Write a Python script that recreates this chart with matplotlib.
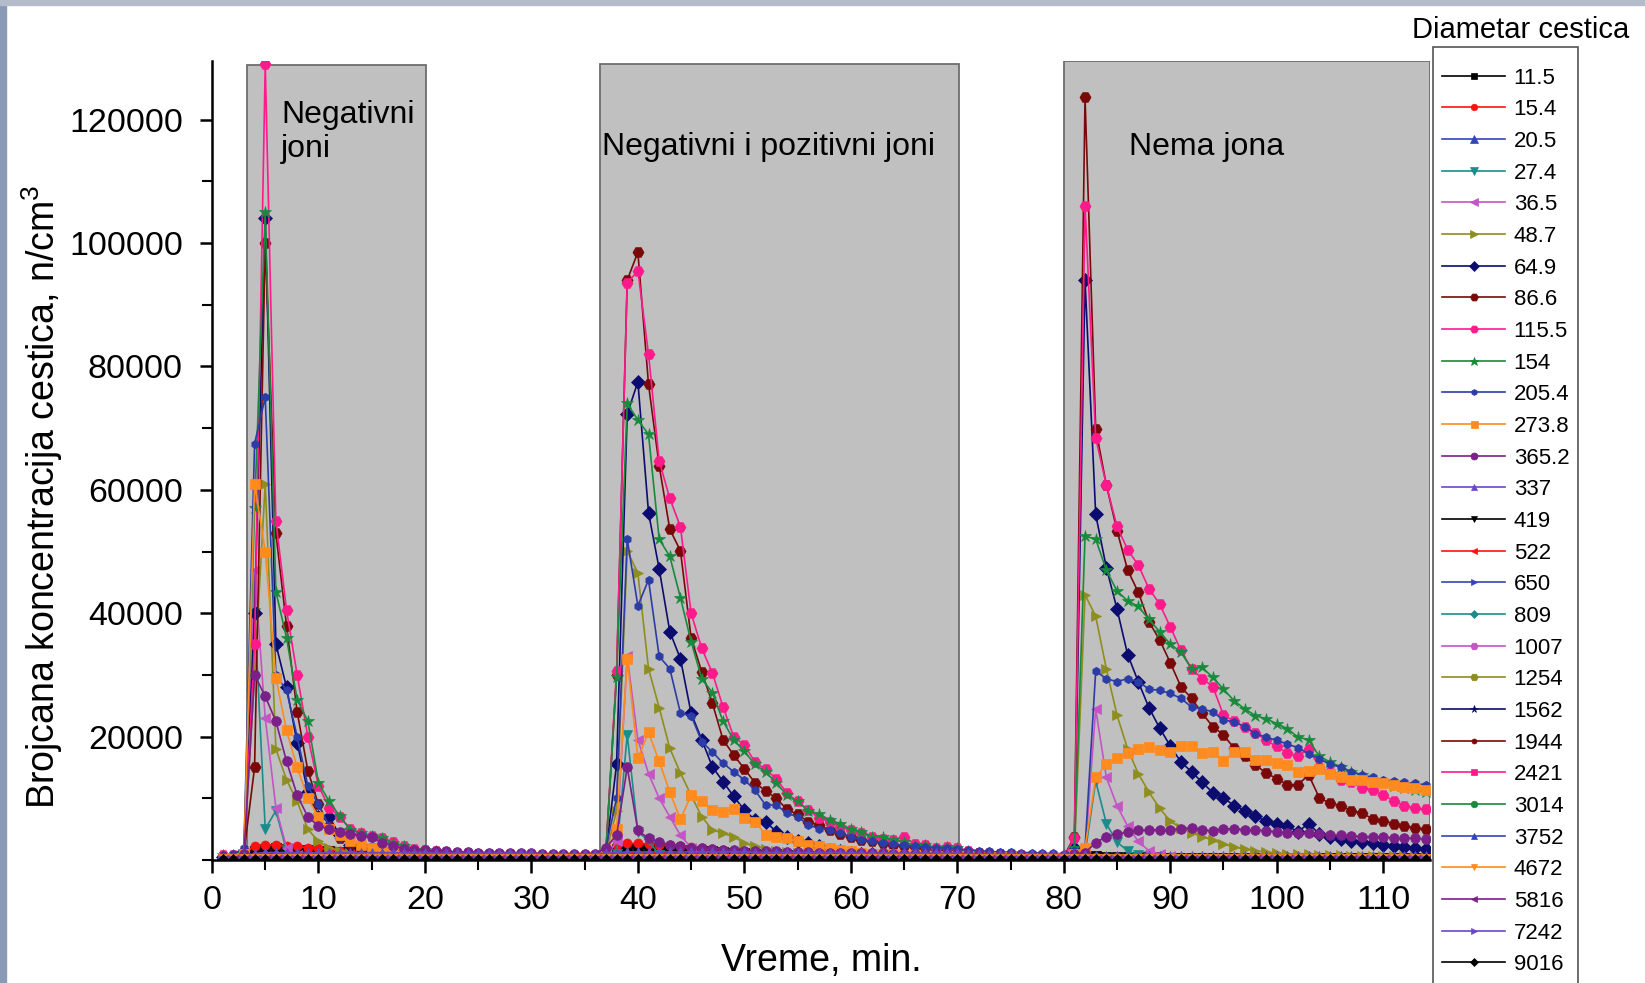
import numpy as np
import matplotlib
matplotlib.use("Agg")
import matplotlib.pyplot as plt
from matplotlib.ticker import MultipleLocator
from matplotlib.patches import Rectangle

plt.rcParams['font.family'] = ['Liberation Sans', 'DejaVu Sans']
plt.rcParams['mathtext.default'] = 'regular'

# vreme, min (jedna tacka po minuti)
minutes = np.arange(1, 115)

# koncentracije u hiljadama n/cm3, redovi po 10 minuta
d11_5 = [
    0.3, 0.3, 0.8, 1.5, 1.8, 1.9, 1.8, 1.7, 1.6, 1.5,
    1.4, 1.3, 1.2, 1.1, 1.0, 0.9, 0.8, 0.8, 0.7, 0.7,
    0.6, 0.6, 0.6, 0.5, 0.5, 0.5, 0.5, 0.5, 0.4, 0.4,
    0.4, 0.4, 0.4, 0.4, 0.4, 0.4, 1.2, 1.8, 2.0, 2.0,
    1.9, 1.9, 1.8, 1.7, 1.6, 1.5, 1.4, 1.3, 1.2, 1.1,
    1.0, 0.9, 0.9, 0.8, 0.8, 0.7, 0.7, 0.6, 0.6, 0.6,
    0.5, 0.5, 0.5, 0.5, 0.4, 0.4, 0.4, 0.4, 0.4, 0.4,
    0.3, 0.3, 0.3, 0.3, 0.3, 0.3, 0.3, 0.3, 0.3, 0.3,
    0.4, 0.6, 0.6, 0.5, 0.5, 0.5, 0.5, 0.5, 0.5, 0.4,
    0.4, 0.4, 0.4, 0.4, 0.4, 0.4, 0.4, 0.4, 0.4, 0.4,
    0.4, 0.4, 0.4, 0.3, 0.3, 0.3, 0.3, 0.3, 0.3, 0.3,
    0.3, 0.3, 0.3, 0.3,
]
d15_4 = [
    0.3, 0.3, 1.0, 2.3, 2.5, 2.4, 2.3, 2.2, 2.0, 1.9,
    1.7, 1.5, 1.4, 1.2, 1.1, 1.0, 0.9, 0.8, 0.7, 0.7,
    0.6, 0.6, 0.6, 0.5, 0.5, 0.5, 0.5, 0.4, 0.4, 0.4,
    0.4, 0.4, 0.4, 0.4, 0.4, 0.4, 1.5, 2.5, 2.7, 2.7,
    2.6, 2.5, 2.4, 2.3, 2.1, 2.0, 1.8, 1.7, 1.5, 1.4,
    1.3, 1.2, 1.1, 1.0, 0.9, 0.9, 0.8, 0.8, 0.7, 0.7,
    0.6, 0.6, 0.6, 0.5, 0.5, 0.5, 0.5, 0.4, 0.4, 0.4,
    0.3, 0.3, 0.3, 0.3, 0.3, 0.3, 0.3, 0.3, 0.3, 0.3,
    0.4, 0.5, 0.5, 0.5, 0.5, 0.5, 0.4, 0.4, 0.4, 0.4,
    0.4, 0.4, 0.4, 0.4, 0.4, 0.4, 0.4, 0.4, 0.4, 0.4,
    0.4, 0.4, 0.4, 0.3, 0.3, 0.3, 0.3, 0.3, 0.3, 0.3,
    0.3, 0.3, 0.3, 0.3,
]
d20_5 = [
    0.2, 0.2, 0.5, 1.0, 1.2, 1.1, 1.0, 1.0, 0.9, 0.9,
    0.8, 0.8, 0.8, 0.7, 0.7, 0.7, 0.7, 0.6, 0.6, 0.6,
    0.5, 0.5, 0.5, 0.5, 0.5, 0.5, 0.5, 0.5, 0.5, 0.5,
    0.5, 0.5, 0.5, 0.5, 0.5, 0.5, 0.8, 1.0, 1.2, 1.2,
    1.1, 1.1, 1.0, 1.0, 0.9, 0.9, 0.8, 0.8, 0.7, 0.7,
    0.6, 0.6, 0.6, 0.6, 0.6, 0.5, 0.5, 0.5, 0.5, 0.5,
    0.4, 0.4, 0.4, 0.4, 0.4, 0.4, 0.4, 0.4, 0.4, 0.4,
    0.3, 0.3, 0.3, 0.3, 0.3, 0.3, 0.3, 0.3, 0.3, 0.3,
    0.3, 0.5, 0.5, 0.5, 0.5, 0.5, 0.5, 0.5, 0.5, 0.5,
    0.4, 0.4, 0.4, 0.4, 0.4, 0.4, 0.4, 0.4, 0.4, 0.4,
    0.3, 0.3, 0.3, 0.3, 0.3, 0.3, 0.3, 0.3, 0.3, 0.3,
    0.3, 0.3, 0.3, 0.3,
]
d27_4 = [
    0.2, 0.2, 1.0, 40.0, 5.0, 8.0, 1.5, 0.5, 0.3, 0.3,
    0.2, 0.2, 0.2, 0.2, 0.2, 0.2, 0.2, 0.2, 0.2, 0.2,
    0.2, 0.2, 0.2, 0.2, 0.2, 0.2, 0.2, 0.2, 0.2, 0.2,
    0.2, 0.2, 0.2, 0.2, 0.2, 0.2, 0.5, 1.0, 20.3, 4.5,
    3.2, 0.8, 0.4, 0.3, 0.2, 0.2, 0.2, 0.2, 0.2, 0.2,
    0.2, 0.2, 0.2, 0.2, 0.2, 0.2, 0.2, 0.2, 0.2, 0.2,
    0.2, 0.2, 0.2, 0.2, 0.2, 0.2, 0.2, 0.2, 0.2, 0.2,
    0.2, 0.2, 0.2, 0.2, 0.2, 0.2, 0.2, 0.2, 0.2, 0.2,
    0.5, 1.0, 12.8, 5.9, 2.9, 1.5, 0.8, 0.4, 0.3, 0.2,
    0.2, 0.2, 0.2, 0.2, 0.2, 0.2, 0.2, 0.2, 0.2, 0.2,
    0.2, 0.2, 0.2, 0.2, 0.2, 0.2, 0.2, 0.2, 0.2, 0.2,
    0.2, 0.2, 0.2, 0.2,
]
d36_5 = [
    0.2, 0.2, 1.0, 47.0, 23.0, 8.5, 2.0, 0.8, 0.5, 0.4,
    0.4, 0.3, 0.3, 0.3, 0.3, 0.3, 0.3, 0.3, 0.3, 0.3,
    0.3, 0.3, 0.3, 0.3, 0.3, 0.3, 0.2, 0.2, 0.2, 0.2,
    0.2, 0.2, 0.2, 0.2, 0.2, 0.2, 0.5, 3.0, 33.0, 19.5,
    14.0, 10.0, 7.0, 4.0, 2.0, 1.0, 0.6, 0.4, 0.4, 0.3,
    0.3, 0.3, 0.3, 0.3, 0.3, 0.3, 0.3, 0.3, 0.2, 0.2,
    0.2, 0.2, 0.2, 0.2, 0.2, 0.2, 0.2, 0.2, 0.2, 0.2,
    0.2, 0.2, 0.2, 0.2, 0.2, 0.2, 0.2, 0.2, 0.2, 0.2,
    0.5, 1.0, 24.5, 13.4, 8.8, 5.5, 3.0, 1.5, 1.0, 0.6,
    0.4, 0.3, 0.3, 0.3, 0.3, 0.3, 0.3, 0.3, 0.3, 0.3,
    0.3, 0.3, 0.3, 0.2, 0.2, 0.2, 0.2, 0.2, 0.2, 0.2,
    0.2, 0.2, 0.2, 0.2,
]
d48_7 = [
    0.3, 0.3, 1.0, 30.0, 61.0, 18.0, 13.0, 9.5, 5.0, 3.0,
    2.0, 1.5, 1.2, 1.0, 0.9, 0.8, 0.8, 0.7, 0.7, 0.6,
    0.6, 0.6, 0.5, 0.5, 0.5, 0.5, 0.5, 0.5, 0.4, 0.4,
    0.4, 0.4, 0.4, 0.4, 0.4, 0.4, 1.0, 8.0, 50.1, 46.5,
    31.0, 24.7, 18.1, 14.1, 10.5, 7.0, 4.9, 4.3, 3.8, 2.7,
    2.2, 1.8, 1.5, 1.3, 1.1, 1.0, 0.9, 0.8, 0.8, 0.7,
    0.7, 0.6, 0.6, 0.6, 0.5, 0.5, 0.5, 0.5, 0.5, 0.4,
    0.4, 0.4, 0.4, 0.4, 0.3, 0.3, 0.3, 0.3, 0.3, 0.3,
    1.0, 43.0, 39.5, 31.0, 23.5, 18.0, 14.0, 11.0, 8.4, 6.3,
    5.2, 4.4, 3.8, 3.2, 2.6, 2.1, 1.8, 1.5, 1.3, 1.1,
    1.0, 0.9, 0.9, 0.8, 0.8, 0.8, 0.7, 0.7, 0.7, 0.6,
    0.6, 0.6, 0.6, 0.5,
]
d64_9 = [
    0.5, 0.5, 1.0, 40.0, 104.0, 35.0, 28.0, 19.0, 11.0, 7.0,
    7.0, 4.0, 2.5, 2.0, 1.6, 1.4, 1.2, 1.1, 1.0, 0.9,
    0.8, 0.8, 0.7, 0.7, 0.7, 0.6, 0.6, 0.6, 0.6, 0.5,
    0.5, 0.5, 0.5, 0.5, 0.5, 0.5, 1.2, 15.5, 72.3, 77.5,
    56.3, 47.2, 37.0, 32.6, 23.8, 19.5, 15.1, 12.7, 10.3, 8.1,
    6.5, 6.2, 4.6, 3.8, 3.0, 2.7, 2.2, 1.6, 1.4, 1.1,
    1.0, 0.9, 0.9, 0.8, 0.8, 0.7, 0.7, 0.7, 0.6, 0.6,
    0.6, 0.5, 0.5, 0.5, 0.5, 0.4, 0.4, 0.4, 0.4, 0.4,
    2.0, 94.0, 56.0, 47.4, 40.7, 33.3, 28.9, 24.7, 21.4, 18.5,
    15.9, 14.3, 12.6, 10.9, 10.1, 8.8, 8.0, 7.1, 6.3, 5.9,
    5.5, 4.6, 5.9, 4.2, 3.8, 3.4, 3.1, 2.9, 2.7, 2.5,
    2.3, 2.1, 2.0, 1.8,
]
d86_6 = [
    0.7, 0.7, 1.2, 15.0, 100.0, 53.0, 38.0, 24.0, 14.5, 9.0,
    5.5, 3.5, 2.6, 2.1, 2.0, 1.8, 1.6, 1.4, 1.3, 1.2,
    1.1, 1.0, 0.9, 0.9, 0.8, 0.8, 0.8, 0.7, 0.7, 0.7,
    0.6, 0.6, 0.6, 0.6, 0.6, 0.6, 1.5, 30.0, 94.0, 98.5,
    77.1, 63.9, 53.6, 50.1, 36.0, 30.5, 25.4, 19.5, 17.0, 14.8,
    12.5, 11.2, 10.0, 8.2, 7.4, 6.2, 5.6, 4.9, 4.2, 3.7,
    3.3, 3.0, 2.7, 2.5, 2.3, 2.1, 1.9, 1.7, 1.6, 1.5,
    1.3, 1.1, 1.0, 0.9, 0.8, 0.7, 0.6, 0.6, 0.5, 0.5,
    3.8, 123.6, 69.9, 60.8, 53.4, 47.0, 43.4, 38.6, 35.7, 32.0,
    28.1, 26.2, 23.8, 21.6, 20.3, 18.1, 16.8, 15.4, 14.1, 13.2,
    12.2, 12.2, 13.8, 10.1, 9.2, 8.8, 8.0, 7.6, 6.7, 6.3,
    5.9, 5.5, 5.2, 5.0,
]
d115_5 = [
    0.8, 0.8, 1.5, 35.0, 129.0, 55.0, 40.5, 30.0, 20.0, 12.0,
    8.5, 7.0, 5.0, 4.4, 3.9, 3.5, 2.9, 2.3, 1.8, 1.7,
    1.5, 1.3, 1.2, 1.1, 1.0, 1.0, 0.9, 0.9, 0.8, 0.8,
    0.8, 0.7, 0.7, 0.7, 0.7, 0.7, 1.5, 30.7, 93.5, 95.5,
    82.0, 64.7, 58.6, 54.0, 40.0, 34.3, 30.3, 24.8, 20.0, 18.6,
    15.9, 14.7, 13.2, 10.8, 9.5, 8.1, 6.8, 6.2, 5.4, 4.9,
    4.3, 3.8, 3.4, 3.2, 3.8, 2.6, 2.4, 2.0, 2.1, 1.9,
    1.5, 1.2, 1.1, 1.0, 1.0, 0.8, 0.7, 0.6, 0.5, 0.5,
    3.5, 106.0, 68.4, 60.8, 54.1, 50.3, 47.8, 44.0, 41.5, 37.8,
    34.0, 31.0, 29.4, 28.1, 23.5, 22.5, 21.5, 20.6, 19.4, 18.4,
    17.3, 16.8, 18.0, 15.1, 14.3, 13.0, 12.6, 11.7, 11.3, 10.5,
    9.6, 8.8, 8.4, 8.2,
]
d154 = [
    0.8, 0.8, 1.5, 57.0, 105.0, 43.5, 36.0, 26.0, 22.5, 12.5,
    9.5, 7.1, 4.9, 4.4, 3.9, 3.6, 2.8, 2.2, 1.6, 1.7,
    1.4, 1.1, 1.0, 1.0, 0.9, 0.9, 0.8, 0.8, 0.8, 0.7,
    0.7, 0.7, 0.7, 0.6, 0.6, 0.6, 1.5, 29.6, 74.0, 71.3,
    69.0, 52.0, 49.2, 42.5, 35.4, 29.4, 27.1, 22.5, 19.5, 17.6,
    15.5, 14.3, 12.5, 10.5, 9.5, 8.0, 7.5, 6.5, 5.9, 5.0,
    4.6, 3.8, 3.8, 3.2, 2.9, 2.4, 2.4, 1.9, 2.1, 1.9,
    1.4, 1.1, 1.1, 1.0, 1.0, 0.8, 0.8, 0.6, 0.5, 0.4,
    2.0, 52.5, 52.0, 47.0, 43.6, 42.0, 41.1, 39.0, 37.0, 35.0,
    33.7, 31.0, 31.2, 29.6, 27.7, 25.8, 24.5, 23.4, 22.9, 22.1,
    21.3, 19.9, 19.5, 16.8, 15.9, 15.1, 14.3, 13.8, 13.0, 12.6,
    12.0, 11.6, 11.3, 11.0,
]
d205_4 = [
    0.8, 0.9, 2.0, 67.5, 75.0, 30.0, 27.5, 20.0, 12.0, 9.0,
    5.5, 3.5, 3.0, 2.6, 2.3, 2.0, 1.8, 1.6, 1.5, 1.4,
    1.3, 1.3, 1.2, 1.2, 1.2, 1.1, 1.1, 1.1, 1.0, 1.0,
    1.0, 1.0, 1.0, 0.9, 0.9, 0.9, 2.0, 10.0, 52.0, 41.2,
    45.4, 33.0, 31.0, 23.8, 23.4, 19.2, 17.5, 15.7, 14.3, 13.0,
    11.3, 8.9, 8.9, 7.6, 7.0, 5.7, 5.1, 4.9, 4.3, 3.8,
    3.2, 3.0, 2.8, 2.6, 2.4, 2.2, 2.1, 2.0, 1.9, 1.8,
    1.6, 1.5, 1.4, 1.3, 1.3, 1.2, 1.2, 1.1, 1.1, 1.0,
    1.5, 2.0, 30.6, 29.4, 28.9, 29.4, 28.9, 27.7, 27.5, 27.0,
    26.2, 24.8, 24.5, 24.0, 22.7, 22.4, 21.6, 20.5, 19.9, 19.4,
    18.8, 18.2, 17.2, 16.4, 15.5, 15.1, 14.3, 13.8, 13.4, 13.0,
    12.8, 12.6, 12.4, 12.2,
]
d273_8 = [
    0.3, 0.3, 1.0, 61.0, 50.0, 29.5, 21.0, 15.0, 10.0, 7.0,
    5.0, 4.0, 3.0, 2.5, 2.0, 1.8, 1.5, 1.2, 1.0, 0.9,
    0.8, 0.8, 0.7, 0.7, 0.7, 0.6, 0.6, 0.6, 0.6, 0.5,
    0.5, 0.5, 0.5, 0.5, 0.5, 0.5, 1.0, 5.0, 32.5, 16.5,
    20.7, 16.0, 11.0, 6.6, 10.5, 9.5, 8.1, 7.8, 8.2, 6.8,
    6.2, 4.1, 3.8, 3.5, 3.0, 2.4, 2.2, 1.9, 1.6, 1.5,
    1.1, 1.0, 0.9, 0.9, 0.8, 0.8, 0.7, 0.7, 0.7, 0.6,
    0.6, 0.5, 0.5, 0.5, 0.5, 0.4, 0.4, 0.4, 0.4, 0.4,
    1.0, 2.0, 13.4, 15.5, 16.5, 17.3, 18.0, 18.3, 17.8, 17.5,
    18.5, 18.5, 17.3, 17.5, 16.1, 17.5, 17.5, 16.2, 16.2, 15.7,
    15.4, 14.2, 14.5, 14.8, 14.0, 13.5, 13.0, 13.0, 12.6, 12.5,
    12.2, 11.8, 11.6, 11.3,
]
d365_2 = [
    0.5, 0.5, 1.0, 30.0, 26.5, 22.5, 16.0, 10.5, 7.0, 5.5,
    5.0, 4.5, 4.2, 3.9, 3.7, 2.8, 2.3, 1.8, 1.6, 1.6,
    1.4, 1.4, 1.3, 1.3, 1.2, 1.2, 1.2, 1.1, 1.1, 1.1,
    1.0, 1.0, 1.0, 1.0, 1.0, 1.0, 2.0, 4.0, 15.0, 4.8,
    3.5, 2.9, 2.5, 2.2, 2.0, 1.9, 1.8, 1.7, 1.6, 1.5,
    1.5, 1.4, 1.4, 1.3, 1.3, 1.3, 1.2, 1.2, 1.2, 1.1,
    1.1, 1.1, 1.1, 1.0, 1.0, 1.0, 1.0, 1.0, 0.9, 0.9,
    0.9, 0.9, 0.8, 0.8, 0.8, 0.8, 0.7, 0.7, 0.7, 0.7,
    1.0, 1.2, 2.8, 3.8, 4.2, 4.5, 4.8, 4.9, 4.9, 4.9,
    5.1, 5.2, 4.9, 4.7, 5.0, 5.1, 4.9, 4.9, 4.7, 4.6,
    4.4, 4.4, 4.3, 4.2, 4.1, 4.0, 3.9, 3.8, 3.8, 3.7,
    3.6, 3.6, 3.5, 3.4,
]
d337 = [
    0.4, 0.4, 0.6, 1.0, 1.2, 1.2, 1.2, 1.2, 1.2, 1.2,
    1.2, 1.2, 1.2, 1.2, 1.2, 1.2, 1.2, 1.2, 1.2, 1.2,
    1.1, 1.1, 1.1, 1.1, 1.1, 1.1, 1.1, 1.1, 1.1, 1.1,
    1.0, 1.0, 1.0, 1.0, 1.0, 1.0, 1.1, 1.2, 1.3, 1.3,
    1.3, 1.3, 1.3, 1.3, 1.3, 1.3, 1.3, 1.3, 1.3, 1.3,
    1.2, 1.2, 1.2, 1.2, 1.2, 1.2, 1.2, 1.2, 1.2, 1.2,
    1.1, 1.1, 1.1, 1.1, 1.1, 1.1, 1.1, 1.1, 1.1, 1.1,
    0.9, 0.9, 0.9, 0.9, 0.9, 0.9, 0.9, 0.9, 0.9, 0.9,
    0.8, 0.8, 0.7, 0.7, 0.7, 0.7, 0.7, 0.7, 0.7, 0.7,
    0.7, 0.7, 0.7, 0.7, 0.7, 0.7, 0.7, 0.7, 0.7, 0.7,
    0.6, 0.6, 0.6, 0.6, 0.6, 0.6, 0.6, 0.6, 0.6, 0.6,
    0.6, 0.6, 0.6, 0.6,
]
d419 = [
    0.1, 0.1, 0.2, 0.2, 0.2, 0.2, 0.2, 0.2, 0.2, 0.2,
    0.2, 0.2, 0.2, 0.2, 0.2, 0.2, 0.2, 0.2, 0.2, 0.2,
    0.1, 0.1, 0.1, 0.1, 0.1, 0.1, 0.1, 0.1, 0.1, 0.1,
    0.1, 0.1, 0.1, 0.1, 0.1, 0.1, 0.2, 0.2, 0.2, 0.2,
    0.2, 0.2, 0.2, 0.2, 0.2, 0.2, 0.2, 0.2, 0.2, 0.2,
    0.2, 0.2, 0.2, 0.2, 0.2, 0.2, 0.2, 0.2, 0.2, 0.2,
    0.1, 0.1, 0.1, 0.1, 0.1, 0.1, 0.1, 0.1, 0.1, 0.1,
    0.1, 0.1, 0.1, 0.1, 0.1, 0.1, 0.1, 0.1, 0.1, 0.1,
    0.1, 0.1, 0.1, 0.1, 0.1, 0.1, 0.1, 0.1, 0.1, 0.1,
    0.1, 0.1, 0.1, 0.1, 0.1, 0.1, 0.1, 0.1, 0.1, 0.1,
    0.1, 0.1, 0.1, 0.1, 0.1, 0.1, 0.1, 0.1, 0.1, 0.1,
    0.1, 0.1, 0.1, 0.1,
]
d522 = [
    0.2, 0.2, 0.3, 0.4, 0.4, 0.4, 0.4, 0.4, 0.4, 0.4,
    0.4, 0.4, 0.4, 0.4, 0.3, 0.3, 0.3, 0.3, 0.3, 0.3,
    0.3, 0.3, 0.3, 0.3, 0.3, 0.3, 0.3, 0.3, 0.3, 0.3,
    0.3, 0.3, 0.3, 0.3, 0.3, 0.3, 0.4, 0.4, 0.5, 0.5,
    0.5, 0.5, 0.4, 0.4, 0.4, 0.4, 0.4, 0.4, 0.4, 0.4,
    0.3, 0.3, 0.3, 0.3, 0.3, 0.3, 0.3, 0.3, 0.3, 0.3,
    0.3, 0.3, 0.3, 0.3, 0.3, 0.3, 0.3, 0.3, 0.3, 0.3,
    0.2, 0.2, 0.2, 0.2, 0.2, 0.2, 0.2, 0.2, 0.2, 0.2,
    0.2, 0.2, 0.2, 0.2, 0.2, 0.2, 0.2, 0.2, 0.2, 0.2,
    0.2, 0.2, 0.2, 0.2, 0.2, 0.2, 0.2, 0.2, 0.2, 0.2,
    0.2, 0.2, 0.2, 0.2, 0.2, 0.2, 0.2, 0.2, 0.2, 0.2,
    0.2, 0.2, 0.2, 0.2,
]
d650 = [
    0.1, 0.1, 0.2, 0.3, 0.3, 0.3, 0.3, 0.3, 0.3, 0.3,
    0.3, 0.3, 0.3, 0.3, 0.2, 0.2, 0.2, 0.2, 0.2, 0.2,
    0.2, 0.2, 0.2, 0.2, 0.2, 0.2, 0.2, 0.2, 0.2, 0.2,
    0.2, 0.2, 0.2, 0.2, 0.2, 0.2, 0.3, 0.3, 0.3, 0.3,
    0.3, 0.3, 0.3, 0.3, 0.3, 0.3, 0.3, 0.3, 0.2, 0.2,
    0.2, 0.2, 0.2, 0.2, 0.2, 0.2, 0.2, 0.2, 0.2, 0.2,
    0.2, 0.2, 0.2, 0.2, 0.2, 0.2, 0.2, 0.2, 0.2, 0.2,
    0.1, 0.1, 0.1, 0.1, 0.1, 0.1, 0.1, 0.1, 0.1, 0.1,
    0.1, 0.2, 0.2, 0.2, 0.2, 0.2, 0.2, 0.2, 0.2, 0.2,
    0.2, 0.2, 0.2, 0.2, 0.2, 0.2, 0.2, 0.2, 0.2, 0.2,
    0.2, 0.2, 0.2, 0.2, 0.2, 0.2, 0.2, 0.2, 0.2, 0.2,
    0.2, 0.2, 0.2, 0.2,
]
d809 = [
    0.1, 0.1, 0.1, 0.2, 0.2, 0.2, 0.2, 0.2, 0.2, 0.2,
    0.2, 0.2, 0.1, 0.1, 0.1, 0.1, 0.1, 0.1, 0.1, 0.1,
    0.1, 0.1, 0.1, 0.1, 0.1, 0.1, 0.1, 0.1, 0.1, 0.1,
    0.1, 0.1, 0.1, 0.1, 0.1, 0.1, 0.1, 0.2, 0.2, 0.2,
    0.2, 0.2, 0.2, 0.2, 0.2, 0.1, 0.1, 0.1, 0.1, 0.1,
    0.1, 0.1, 0.1, 0.1, 0.1, 0.1, 0.1, 0.1, 0.1, 0.1,
    0.1, 0.1, 0.1, 0.1, 0.1, 0.1, 0.1, 0.1, 0.1, 0.1,
    0.1, 0.1, 0.1, 0.1, 0.1, 0.1, 0.1, 0.1, 0.1, 0.1,
    0.1, 0.1, 0.2, 0.2, 0.2, 0.2, 0.2, 0.2, 0.2, 0.2,
    0.2, 0.2, 0.2, 0.2, 0.2, 0.2, 0.2, 0.2, 0.2, 0.2,
    0.1, 0.1, 0.1, 0.1, 0.1, 0.1, 0.1, 0.1, 0.1, 0.1,
    0.1, 0.1, 0.1, 0.1,
]
d1007 = [
    0.1, 0.1, 0.1, 0.1, 0.1, 0.1, 0.1, 0.1, 0.1, 0.1,
    0.1, 0.1, 0.1, 0.1, 0.1, 0.1, 0.1, 0.1, 0.1, 0.1,
    0.1, 0.1, 0.1, 0.1, 0.1, 0.1, 0.1, 0.1, 0.1, 0.1,
    0.1, 0.1, 0.1, 0.1, 0.1, 0.1, 0.1, 0.1, 0.1, 0.1,
    0.1, 0.1, 0.1, 0.1, 0.1, 0.1, 0.1, 0.1, 0.1, 0.1,
    0.1, 0.1, 0.1, 0.1, 0.1, 0.1, 0.1, 0.1, 0.1, 0.1,
    0.1, 0.1, 0.1, 0.1, 0.1, 0.1, 0.1, 0.1, 0.1, 0.1,
    0.1, 0.1, 0.1, 0.1, 0.1, 0.1, 0.1, 0.1, 0.1, 0.1,
    0.1, 0.1, 0.1, 0.1, 0.1, 0.1, 0.1, 0.1, 0.1, 0.1,
    0.1, 0.1, 0.1, 0.1, 0.1, 0.1, 0.1, 0.1, 0.1, 0.1,
    0.1, 0.1, 0.1, 0.1, 0.1, 0.1, 0.1, 0.1, 0.1, 0.1,
    0.1, 0.1, 0.1, 0.1,
]
d1254 = [
    0.1, 0.1, 0.1, 0.1, 0.1, 0.1, 0.1, 0.1, 0.1, 0.1,
    0.1, 0.1, 0.1, 0.1, 0.1, 0.1, 0.1, 0.1, 0.1, 0.1,
    0.1, 0.1, 0.1, 0.1, 0.1, 0.1, 0.1, 0.1, 0.1, 0.1,
    0.1, 0.1, 0.1, 0.1, 0.1, 0.1, 0.1, 0.1, 0.1, 0.1,
    0.1, 0.1, 0.1, 0.1, 0.1, 0.1, 0.1, 0.1, 0.1, 0.1,
    0.1, 0.1, 0.1, 0.1, 0.1, 0.1, 0.1, 0.1, 0.1, 0.1,
    0.1, 0.1, 0.1, 0.1, 0.1, 0.1, 0.1, 0.1, 0.1, 0.1,
    0.1, 0.1, 0.1, 0.1, 0.1, 0.1, 0.1, 0.1, 0.1, 0.1,
    0.1, 0.1, 0.1, 0.1, 0.1, 0.1, 0.1, 0.1, 0.1, 0.1,
    0.1, 0.1, 0.1, 0.1, 0.1, 0.1, 0.1, 0.1, 0.1, 0.1,
    0.1, 0.1, 0.1, 0.1, 0.1, 0.1, 0.1, 0.1, 0.1, 0.1,
    0.1, 0.1, 0.1, 0.1,
]
d1562 = [
    0.1, 0.1, 0.1, 0.1, 0.1, 0.1, 0.1, 0.1, 0.1, 0.1,
    0.1, 0.1, 0.1, 0.1, 0.1, 0.1, 0.1, 0.1, 0.1, 0.1,
    0.1, 0.1, 0.1, 0.1, 0.1, 0.1, 0.1, 0.1, 0.1, 0.1,
    0.1, 0.1, 0.1, 0.1, 0.1, 0.1, 0.1, 0.1, 0.1, 0.1,
    0.1, 0.1, 0.1, 0.1, 0.1, 0.1, 0.1, 0.1, 0.1, 0.1,
    0.1, 0.1, 0.1, 0.1, 0.1, 0.1, 0.1, 0.1, 0.1, 0.1,
    0.1, 0.1, 0.1, 0.1, 0.1, 0.1, 0.1, 0.1, 0.1, 0.1,
    0.1, 0.1, 0.1, 0.1, 0.1, 0.1, 0.1, 0.1, 0.1, 0.1,
    0.1, 0.1, 0.1, 0.1, 0.1, 0.1, 0.1, 0.1, 0.1, 0.1,
    0.1, 0.1, 0.1, 0.1, 0.1, 0.1, 0.1, 0.1, 0.1, 0.1,
    0.1, 0.1, 0.1, 0.1, 0.1, 0.1, 0.1, 0.1, 0.1, 0.1,
    0.1, 0.1, 0.1, 0.1,
]
d1944 = [
    0.05, 0.05, 0.1, 0.1, 0.1, 0.1, 0.1, 0.1, 0.1, 0.1,
    0.1, 0.1, 0.1, 0.1, 0.1, 0.1, 0.1, 0.1, 0.1, 0.1,
    0.05, 0.05, 0.05, 0.05, 0.05, 0.05, 0.05, 0.05, 0.05, 0.05,
    0.05, 0.05, 0.05, 0.05, 0.05, 0.05, 0.1, 0.1, 0.1, 0.1,
    0.1, 0.1, 0.1, 0.1, 0.1, 0.1, 0.1, 0.1, 0.1, 0.1,
    0.1, 0.1, 0.1, 0.1, 0.1, 0.1, 0.1, 0.1, 0.1, 0.1,
    0.1, 0.1, 0.1, 0.1, 0.1, 0.1, 0.1, 0.1, 0.1, 0.1,
    0.05, 0.05, 0.05, 0.05, 0.05, 0.05, 0.05, 0.05, 0.05, 0.05,
    0.05, 0.1, 0.1, 0.1, 0.1, 0.1, 0.1, 0.1, 0.1, 0.1,
    0.1, 0.1, 0.1, 0.1, 0.1, 0.1, 0.1, 0.1, 0.1, 0.1,
    0.1, 0.1, 0.1, 0.1, 0.1, 0.1, 0.1, 0.1, 0.1, 0.1,
    0.1, 0.1, 0.1, 0.1,
]
d2421 = [
    0.05, 0.05, 0.05, 0.05, 0.05, 0.05, 0.05, 0.05, 0.05, 0.05,
    0.05, 0.05, 0.05, 0.05, 0.05, 0.05, 0.05, 0.05, 0.05, 0.05,
    0.05, 0.05, 0.05, 0.05, 0.05, 0.05, 0.05, 0.05, 0.05, 0.05,
    0.05, 0.05, 0.05, 0.05, 0.05, 0.05, 0.05, 0.05, 0.05, 0.05,
    0.05, 0.05, 0.05, 0.05, 0.05, 0.05, 0.05, 0.05, 0.05, 0.05,
    0.05, 0.05, 0.05, 0.05, 0.05, 0.05, 0.05, 0.05, 0.05, 0.05,
    0.05, 0.05, 0.05, 0.05, 0.05, 0.05, 0.05, 0.05, 0.05, 0.05,
    0.05, 0.05, 0.05, 0.05, 0.05, 0.05, 0.05, 0.05, 0.05, 0.05,
    0.05, 0.05, 0.05, 0.05, 0.05, 0.05, 0.05, 0.05, 0.05, 0.05,
    0.05, 0.05, 0.05, 0.05, 0.05, 0.05, 0.05, 0.05, 0.05, 0.05,
    0.05, 0.05, 0.05, 0.05, 0.05, 0.05, 0.05, 0.05, 0.05, 0.05,
    0.05, 0.05, 0.05, 0.05,
]
d3014 = [
    0.05, 0.05, 0.05, 0.05, 0.05, 0.05, 0.05, 0.05, 0.05, 0.05,
    0.05, 0.05, 0.05, 0.05, 0.05, 0.05, 0.05, 0.05, 0.05, 0.05,
    0.05, 0.05, 0.05, 0.05, 0.05, 0.05, 0.05, 0.05, 0.05, 0.05,
    0.05, 0.05, 0.05, 0.05, 0.05, 0.05, 0.05, 0.05, 0.05, 0.05,
    0.05, 0.05, 0.05, 0.05, 0.05, 0.05, 0.05, 0.05, 0.05, 0.05,
    0.05, 0.05, 0.05, 0.05, 0.05, 0.05, 0.05, 0.05, 0.05, 0.05,
    0.05, 0.05, 0.05, 0.05, 0.05, 0.05, 0.05, 0.05, 0.05, 0.05,
    0.05, 0.05, 0.05, 0.05, 0.05, 0.05, 0.05, 0.05, 0.05, 0.05,
    0.05, 0.05, 0.05, 0.05, 0.05, 0.05, 0.05, 0.05, 0.05, 0.05,
    0.05, 0.05, 0.05, 0.05, 0.05, 0.05, 0.05, 0.05, 0.05, 0.05,
    0.05, 0.05, 0.05, 0.05, 0.05, 0.05, 0.05, 0.05, 0.05, 0.05,
    0.05, 0.05, 0.05, 0.05,
]
d3752 = [
    0.05, 0.05, 0.05, 0.05, 0.05, 0.05, 0.05, 0.05, 0.05, 0.05,
    0.05, 0.05, 0.05, 0.05, 0.05, 0.05, 0.05, 0.05, 0.05, 0.05,
    0.05, 0.05, 0.05, 0.05, 0.05, 0.05, 0.05, 0.05, 0.05, 0.05,
    0.05, 0.05, 0.05, 0.05, 0.05, 0.05, 0.05, 0.05, 0.05, 0.05,
    0.05, 0.05, 0.05, 0.05, 0.05, 0.05, 0.05, 0.05, 0.05, 0.05,
    0.05, 0.05, 0.05, 0.05, 0.05, 0.05, 0.05, 0.05, 0.05, 0.05,
    0.05, 0.05, 0.05, 0.05, 0.05, 0.05, 0.05, 0.05, 0.05, 0.05,
    0.05, 0.05, 0.05, 0.05, 0.05, 0.05, 0.05, 0.05, 0.05, 0.05,
    0.05, 0.05, 0.05, 0.05, 0.05, 0.05, 0.05, 0.05, 0.05, 0.05,
    0.05, 0.05, 0.05, 0.05, 0.05, 0.05, 0.05, 0.05, 0.05, 0.05,
    0.05, 0.05, 0.05, 0.05, 0.05, 0.05, 0.05, 0.05, 0.05, 0.05,
    0.05, 0.05, 0.05, 0.05,
]
d4672 = [
    0.15, 0.15, 0.15, 0.15, 0.15, 0.15, 0.15, 0.15, 0.15, 0.15,
    0.15, 0.15, 0.15, 0.15, 0.15, 0.15, 0.15, 0.15, 0.15, 0.15,
    0.15, 0.15, 0.15, 0.15, 0.15, 0.15, 0.15, 0.15, 0.15, 0.15,
    0.15, 0.15, 0.15, 0.15, 0.15, 0.15, 0.15, 0.15, 0.15, 0.15,
    0.15, 0.15, 0.15, 0.15, 0.15, 0.15, 0.15, 0.15, 0.15, 0.15,
    0.15, 0.15, 0.15, 0.15, 0.15, 0.15, 0.15, 0.15, 0.15, 0.15,
    0.15, 0.15, 0.15, 0.15, 0.15, 0.15, 0.15, 0.15, 0.15, 0.15,
    0.15, 0.15, 0.15, 0.15, 0.15, 0.15, 0.15, 0.15, 0.15, 0.15,
    0.15, 0.15, 0.15, 0.15, 0.15, 0.15, 0.15, 0.15, 0.15, 0.15,
    0.15, 0.15, 0.15, 0.15, 0.15, 0.15, 0.15, 0.15, 0.15, 0.15,
    0.15, 0.15, 0.15, 0.15, 0.15, 0.15, 0.15, 0.15, 0.15, 0.15,
    0.15, 0.15, 0.15, 0.15,
]
d5816 = [
    0.0, 0.0, 0.0, 0.0, 0.0, 0.0, 0.0, 0.0, 0.0, 0.0,
    0.0, 0.0, 0.0, 0.0, 0.0, 0.0, 0.0, 0.0, 0.0, 0.0,
    0.0, 0.0, 0.0, 0.0, 0.0, 0.0, 0.0, 0.0, 0.0, 0.0,
    0.0, 0.0, 0.0, 0.0, 0.0, 0.0, 0.0, 0.0, 0.0, 0.0,
    0.0, 0.0, 0.0, 0.0, 0.0, 0.0, 0.0, 0.0, 0.0, 0.0,
    0.0, 0.0, 0.0, 0.0, 0.0, 0.0, 0.0, 0.0, 0.0, 0.0,
    0.0, 0.0, 0.0, 0.0, 0.0, 0.0, 0.0, 0.0, 0.0, 0.0,
    0.0, 0.0, 0.0, 0.0, 0.0, 0.0, 0.0, 0.0, 0.0, 0.0,
    0.0, 0.0, 0.0, 0.0, 0.0, 0.0, 0.0, 0.0, 0.0, 0.0,
    0.0, 0.0, 0.0, 0.0, 0.0, 0.0, 0.0, 0.0, 0.0, 0.0,
    0.0, 0.0, 0.0, 0.0, 0.0, 0.0, 0.0, 0.0, 0.0, 0.0,
    0.0, 0.0, 0.0, 0.0,
]
d7242 = [
    0.0, 0.0, 0.0, 0.0, 0.0, 0.0, 0.0, 0.0, 0.0, 0.0,
    0.0, 0.0, 0.0, 0.0, 0.0, 0.0, 0.0, 0.0, 0.0, 0.0,
    0.0, 0.0, 0.0, 0.0, 0.0, 0.0, 0.0, 0.0, 0.0, 0.0,
    0.0, 0.0, 0.0, 0.0, 0.0, 0.0, 0.0, 0.0, 0.0, 0.0,
    0.0, 0.0, 0.0, 0.0, 0.0, 0.0, 0.0, 0.0, 0.0, 0.0,
    0.0, 0.0, 0.0, 0.0, 0.0, 0.0, 0.0, 0.0, 0.0, 0.0,
    0.0, 0.0, 0.0, 0.0, 0.0, 0.0, 0.0, 0.0, 0.0, 0.0,
    0.0, 0.0, 0.0, 0.0, 0.0, 0.0, 0.0, 0.0, 0.0, 0.0,
    0.0, 0.0, 0.0, 0.0, 0.0, 0.0, 0.0, 0.0, 0.0, 0.0,
    0.0, 0.0, 0.0, 0.0, 0.0, 0.0, 0.0, 0.0, 0.0, 0.0,
    0.0, 0.0, 0.0, 0.0, 0.0, 0.0, 0.0, 0.0, 0.0, 0.0,
    0.0, 0.0, 0.0, 0.0,
]
d9016 = [
    0.0, 0.0, 0.0, 0.0, 0.0, 0.0, 0.0, 0.0, 0.0, 0.0,
    0.0, 0.0, 0.0, 0.0, 0.0, 0.0, 0.0, 0.0, 0.0, 0.0,
    0.0, 0.0, 0.0, 0.0, 0.0, 0.0, 0.0, 0.0, 0.0, 0.0,
    0.0, 0.0, 0.0, 0.0, 0.0, 0.0, 0.0, 0.0, 0.0, 0.0,
    0.0, 0.0, 0.0, 0.0, 0.0, 0.0, 0.0, 0.0, 0.0, 0.0,
    0.0, 0.0, 0.0, 0.0, 0.0, 0.0, 0.0, 0.0, 0.0, 0.0,
    0.0, 0.0, 0.0, 0.0, 0.0, 0.0, 0.0, 0.0, 0.0, 0.0,
    0.0, 0.0, 0.0, 0.0, 0.0, 0.0, 0.0, 0.0, 0.0, 0.0,
    0.0, 0.0, 0.0, 0.0, 0.0, 0.0, 0.0, 0.0, 0.0, 0.0,
    0.0, 0.0, 0.0, 0.0, 0.0, 0.0, 0.0, 0.0, 0.0, 0.0,
    0.0, 0.0, 0.0, 0.0, 0.0, 0.0, 0.0, 0.0, 0.0, 0.0,
    0.0, 0.0, 0.0, 0.0,
]

labels = ['11.5', '15.4', '20.5', '27.4', '36.5', '48.7', '64.9', '86.6',
          '115.5', '154', '205.4', '273.8', '365.2', '337', '419', '522',
          '650', '809', '1007', '1254', '1562', '1944', '2421', '3014',
          '3752', '4672', '5816', '7242', '9016']
series = [d11_5, d15_4, d20_5, d27_4, d36_5, d48_7, d64_9, d86_6,
          d115_5, d154, d205_4, d273_8, d365_2, d337, d419, d522,
          d650, d809, d1007, d1254, d1562, d1944, d2421, d3014,
          d3752, d4672, d5816, d7242, d9016]

# oblasti sa jonima
region_start = [3.3, 36.4, 80.0]
region_end = [20.1, 70.2, 114.4]
region_top = [128800, 129000, 129500]
region_text = ['Negativni\njoni', 'Negativni i pozitivni joni', 'Nema jona']

black = '#000000'
red = '#ff1010'
blue = '#3344bb'
teal = '#1a8c8c'
orchid = '#c455c4'
olive = '#8e8e1e'
navy = '#0c0c70'
wine = '#7a0808'
pink = '#ff1a8c'
green = '#188a3c'
blue2 = '#2c3ca6'
orange = '#ff8a1e'
purple = '#7a2088'
violet = '#6a48c4'

colors = [black, red, blue, teal, orchid, olive, navy, wine,
          pink, green, blue2, orange, purple, violet, black, red,
          blue, teal, orchid, olive, navy, wine, pink, green,
          blue, orange, purple, violet, black]
markers = ['s', 'o', '^', 'v', '<', '>', 'D', 'H',
           'H', '*', 'h', 's', 'o', '^', 'v', '<',
           '>', 'D', 'H', 'H', '*', 'o', 's', 'o',
           '^', 'v', '<', '>', 'D']
msizes = [6.5, 6.5, 7.5, 7.5, 7.5, 7.5, 7, 8,
          8, 9, 6, 7, 7, 6.5, 6.5, 6.5,
          6.5, 6, 7.5, 7.5, 7.5, 5, 6.5, 6.5,
          6.5, 6.5, 6.5, 6.5, 6]

fig = plt.figure(figsize=(16.45, 9.83), dpi=100)
fig.patches.append(Rectangle((0, 0), 6 / 1645, 1, transform=fig.transFigure,
                             color='#8a9ab6', zorder=0))
fig.patches.append(Rectangle((0, 1 - 5 / 983), 1, 5 / 983, transform=fig.transFigure,
                             color='#b4bccc', zorder=0))

ax = fig.add_axes([212 / 1645, 1 - 860 / 983, 1218 / 1645, 799 / 983])

for x0, x1, top in zip(region_start, region_end, region_top):
    ax.add_patch(Rectangle((x0, 0), x1 - x0, top, facecolor='#c0c0c0',
                           edgecolor='#6e6e6e', lw=1.3, zorder=0.5))

handles = []
for vals, lab, c, m, ms in zip(series, labels, colors, markers, msizes):
    y = np.array(vals) * 1000
    h, = ax.plot(minutes, y, color=c, marker=m, ms=ms, mec=c, mfc=c, mew=0.5,
                 lw=1.2, label=lab, zorder=2)
    handles.append(h)

ax.text(6.5, 118000, region_text[0], fontsize=23, va='center', ha='left', linespacing=1.15)
ax.text(36.6, 115500, region_text[1], fontsize=23, va='center', ha='left')
ax.text(86.1, 115500, region_text[2], fontsize=23, va='center', ha='left')

ax.set_xlim(0, 114.4)
ax.set_ylim(0, 129500)
ax.set_xticks(np.arange(0, 111, 10))
ax.set_yticks(np.arange(20000, 120001, 20000))
ax.xaxis.set_minor_locator(MultipleLocator(5))
ax.yaxis.set_minor_locator(MultipleLocator(10000))
ax.tick_params(which='major', direction='out', length=9, width=1.8, labelsize=24.5)
ax.tick_params(which='minor', direction='out', length=7, width=1.5)
ax.tick_params(axis='x', pad=9)
ax.tick_params(axis='y', pad=12)
for s in ['top', 'right']:
    ax.spines[s].set_visible(False)
for s in ['left', 'bottom']:
    ax.spines[s].set_linewidth(1.8)

ax.set_xlabel('Vreme, min.', fontsize=27)
ax.set_ylabel('Brojcana koncentracija cestica, n/cm$^3$', fontsize=27)
ax.xaxis.set_label_coords(0.5, -0.104)
ax.yaxis.set_label_coords(-0.121, 0.455)

leg = fig.legend(handles, labels, loc='upper left',
                 bbox_to_anchor=(1433 / 1645, 1 - 47 / 983),
                 bbox_transform=fig.transFigure, fontsize=16,
                 title=' ', title_fontsize=1.5,
                 handlelength=2.85, handletextpad=0.38, labelspacing=0.48,
                 borderpad=0.4, borderaxespad=0, markerscale=0.72,
                 fancybox=False, edgecolor='#555555', framealpha=1)
leg.get_frame().set_linewidth(1.2)
fig.text(1521 / 1645, 1 - 30 / 983, 'Diametar cestica', fontsize=21,
         ha='center', va='center')

fig.savefig('out.png', dpi=100)
